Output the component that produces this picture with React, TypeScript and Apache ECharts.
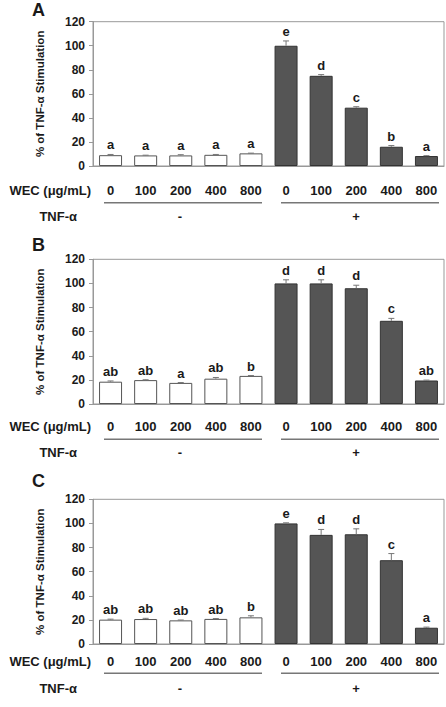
import React, { useEffect, useRef } from "react";
import * as echarts from "echarts";

const doses = ["0", "100", "200", "400", "800", "0", "100", "200", "400", "800"];
const yTicks = [0, 20, 40, 60, 80, 100, 120];

const valuesA = [9, 8.8, 8.8, 9.3, 10.5, 100, 75, 48.5, 16, 8.3];
const errorsA = [0.6, 0.2, 0.6, 0.3, 0.2, 4, 1, 0.8, 1, 0.3];
const lettersA = ["a", "a", "a", "a", "a", "e", "d", "c", "b", "a"];

const valuesB = [18.5, 19.8, 17.5, 21, 23.3, 100, 100, 96, 69, 19.5];
const errorsB = [0.6, 0.3, 0.3, 1, 0.3, 3, 3, 2.5, 2, 0.3];
const lettersB = ["ab", "ab", "a", "ab", "b", "d", "d", "d", "c", "ab"];

const valuesC = [20.2, 20.7, 19.6, 20.8, 22.1, 100, 90.5, 91, 69.5, 13.5];
const errorsC = [0.4, 0.6, 0.3, 0.3, 1.3, 0.5, 4.5, 4.5, 5.5, 0.5];
const lettersC = ["ab", "ab", "ab", "ab", "b", "e", "d", "d", "c", "a"];

const panelNames = ["A", "B", "C"];
const tnfGroups = ["-", "+"];

const FONT = "Arial, 'Liberation Sans', sans-serif";
const TXT = "#1a1a1a";
const AXIS = "#999999";

const panels = [
  { values: valuesA, errors: errorsA, letters: lettersA, top: 21.7, height: 144.3, labelMargin: 17.5, lineY: 202.7, tnfY: 216, nameY: 10 },
  { values: valuesB, errors: errorsB, letters: lettersB, top: 259.3, height: 144.7, labelMargin: 16, lineY: 439.3, tnfY: 452.7, nameY: 245 },
  { values: valuesC, errors: errorsC, letters: lettersC, top: 499.3, height: 144.7, labelMargin: 11, lineY: 673.3, tnfY: 688.3, nameY: 480.5 },
];

const GRID_LEFT = 93;
const GRID_WIDTH = 351;

export default function App() {
  const ref = useRef<HTMLDivElement>(null);
  useEffect(() => {
    if (!ref.current) return;
    const chart = echarts.init(ref.current, undefined, { renderer: "svg" });

    const grid: any[] = [];
    const xAxis: any[] = [];
    const yAxis: any[] = [];
    const series: any[] = [];
    const graphic: any[] = [];

    panels.forEach((p, i) => {
      grid.push({
        left: GRID_LEFT,
        top: p.top,
        width: GRID_WIDTH,
        height: p.height,
        show: true,
        borderColor: AXIS,
        borderWidth: 1,
        backgroundColor: "transparent",
      });
      xAxis.push({
        type: "category",
        gridIndex: i,
        data: doses,
        axisLine: { show: true, lineStyle: { color: AXIS, width: 1 } },
        axisTick: { show: false },
        axisLabel: {
          margin: p.labelMargin,
          color: TXT,
          fontWeight: "bold",
          fontSize: 13,
          fontFamily: FONT,
          interval: 0,
        },
        splitLine: { show: false },
      });
      yAxis.push({
        type: "value",
        gridIndex: i,
        min: 0,
        max: 120,
        interval: 20,
        name: "% of TNF-α Stimulation",
        nameLocation: "middle",
        nameRotate: 90,
        nameGap: 47,
        nameTextStyle: { color: TXT, fontWeight: "bold", fontSize: 11.5, fontFamily: FONT },
        axisLine: { show: true, lineStyle: { color: AXIS, width: 1 } },
        axisTick: { show: true, inside: false, length: 4, lineStyle: { color: AXIS } },
        axisLabel: {
          margin: 8,
          color: TXT,
          fontWeight: "bold",
          fontSize: 12,
          fontFamily: FONT,
          formatter: (v: number) => (yTicks.indexOf(v) >= 0 ? String(v) : ""),
        },
        splitLine: { show: false },
      });
      series.push({
        type: "bar",
        xAxisIndex: i,
        yAxisIndex: i,
        barWidth: 23,
        data: p.values.map((v, j) => ({
          value: v,
          itemStyle:
            j < 5
              ? { color: "#ffffff", borderColor: "#555555", borderWidth: 1 }
              : { color: "#555555", borderColor: "#333333", borderWidth: 1 },
        })),
      });
      const letters = p.letters;
      series.push({
        type: "custom",
        xAxisIndex: i,
        yAxisIndex: i,
        data: p.values.map((v, j) => [j, v, p.errors[j]]),
        z: 5,
        renderItem: (params: any, api: any) => {
          const x = api.value(0);
          const v = api.value(1);
          const e = api.value(2);
          const p0 = api.coord([x, v]);
          const p1 = api.coord([x, v + e]);
          const cap = 3;
          return {
            type: "group",
            children: [
              { type: "line", shape: { x1: p0[0], y1: p0[1], x2: p1[0], y2: p1[1] }, style: { stroke: "#777777", lineWidth: 1 } },
              { type: "line", shape: { x1: p1[0] - cap, y1: p1[1], x2: p1[0] + cap, y2: p1[1] }, style: { stroke: "#777777", lineWidth: 1 } },
              {
                type: "text",
                style: {
                  text: letters[params.dataIndex],
                  x: p1[0],
                  y: p1[1] - 3,
                  align: "center",
                  verticalAlign: "bottom",
                  fill: TXT,
                  font: `bold 13px ${FONT}`,
                },
              },
            ],
          };
        },
      });

      graphic.push(
        { type: "text", left: 32, top: p.nameY - 9, style: { text: panelNames[i], fill: TXT, font: `bold 18px ${FONT}` } },
        {
          type: "text",
          x: 91,
          y: p.top + p.height + p.labelMargin + 6.5,
          style: { text: "WEC (μg/mL)", fill: TXT, font: `bold 13px ${FONT}`, align: "right", verticalAlign: "middle" },
        },
        { type: "line", shape: { x1: 104, y1: p.lineY, x2: 262, y2: p.lineY }, style: { stroke: "#777777", lineWidth: 1.5 } },
        { type: "line", shape: { x1: 281, y1: p.lineY, x2: 439, y2: p.lineY }, style: { stroke: "#777777", lineWidth: 1.5 } },
        {
          type: "text",
          x: 77,
          y: p.tnfY,
          style: { text: "TNF-α", fill: TXT, font: `bold 13px ${FONT}`, align: "right", verticalAlign: "middle" },
        },
        { type: "text", x: 180, y: p.tnfY, style: { text: tnfGroups[0], fill: TXT, font: `bold 13px ${FONT}`, align: "center", verticalAlign: "middle" } },
        { type: "text", x: 356, y: p.tnfY, style: { text: tnfGroups[1], fill: TXT, font: `bold 13px ${FONT}`, align: "center", verticalAlign: "middle" } }
      );
    });

    chart.setOption({
      animation: false,
      backgroundColor: "#ffffff",
      grid,
      xAxis,
      yAxis,
      series,
      graphic,
    });
    return () => chart.dispose();
  }, []);

  return (
    <div
      ref={ref}
      style={{ position: "fixed", left: 0, top: 0, width: 446, height: 707, background: "#fff" }}
    />
  );
}
